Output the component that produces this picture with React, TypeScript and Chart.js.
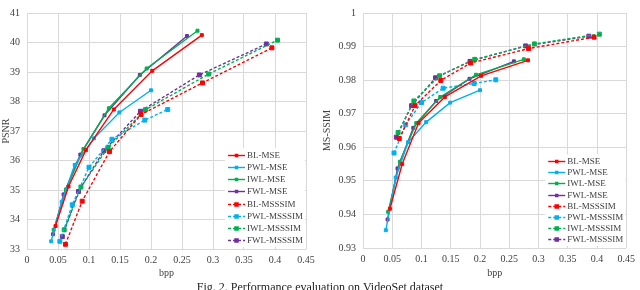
import React, { useEffect, useRef } from "react";
import { Chart, registerables } from "chart.js";

Chart.register(...registerables);

// ---------- data ----------
const SERIES_NAMES = [
  "BL-MSE",
  "PWL-MSE",
  "IWL-MSE",
  "FWL-MSE",
  "BL-MSSSIM",
  "PWL-MSSSIM",
  "IWL-MSSSIM",
  "FWL-MSSSIM",
];

// bits per pixel (shared by both panels)
const BPP_BL_MSE = [0.046, 0.067, 0.095, 0.14, 0.202, 0.282];
const BPP_PWL_MSE = [0.039, 0.056, 0.077, 0.108, 0.149, 0.2];
const BPP_IWL_MSE = [0.043, 0.063, 0.091, 0.132, 0.193, 0.275];
const BPP_FWL_MSE = [0.042, 0.059, 0.086, 0.125, 0.182, 0.258];
const BPP_BL_MSSSIM = [0.062, 0.089, 0.133, 0.184, 0.283, 0.395];
const BPP_PWL_MSSSIM = [0.053, 0.073, 0.1, 0.137, 0.19, 0.227];
const BPP_IWL_MSSSIM = [0.06, 0.087, 0.131, 0.191, 0.293, 0.404];
const BPP_FWL_MSSSIM = [0.057, 0.083, 0.124, 0.183, 0.278, 0.386];

// PSNR (dB)
const PSNR_BL_MSE = [33.78, 35.12, 36.35, 37.73, 39.04, 40.25];
const PSNR_PWL_MSE = [33.26, 34.6, 35.85, 36.75, 37.63, 38.38];
const PSNR_IWL_MSE = [33.65, 35.02, 36.39, 37.77, 39.12, 40.4];
const PSNR_FWL_MSE = [33.5, 34.85, 36.2, 37.53, 38.9, 40.22];
const PSNR_BL_MSSSIM = [33.16, 34.62, 36.3, 37.56, 38.63, 39.82];
const PSNR_PWL_MSSSIM = [33.26, 34.5, 35.77, 36.72, 37.37, 37.73];
const PSNR_IWL_MSSSIM = [33.65, 35.1, 36.45, 37.72, 38.93, 40.08];
const PSNR_FWL_MSSSIM = [33.42, 34.95, 36.33, 37.67, 38.9, 39.95];

// MS-SSIM
const SSIM_BL_MSE = [0.9417, 0.955, 0.9672, 0.975, 0.9813, 0.9859];
const SSIM_PWL_MSE = [0.9353, 0.951, 0.9615, 0.9675, 0.9733, 0.977];
const SSIM_IWL_MSE = [0.9408, 0.9557, 0.9672, 0.975, 0.9816, 0.9862];
const SSIM_FWL_MSE = [0.9385, 0.9537, 0.9658, 0.9738, 0.9804, 0.9856];
const SSIM_BL_MSSSIM = [0.9626, 0.9724, 0.9799, 0.9851, 0.9894, 0.9928];
const SSIM_PWL_MSSSIM = [0.9583, 0.9667, 0.9733, 0.9776, 0.979, 0.9801];
const SSIM_IWL_MSSSIM = [0.9644, 0.9738, 0.9813, 0.9862, 0.9908, 0.9937];
const SSIM_FWL_MSSSIM = [0.963, 0.9724, 0.9807, 0.9856, 0.9902, 0.9931];

// axis ranges / ticks
const X_MIN = 0;
const X_MAX = 0.45;
const X_STEP = 0.05;
const PSNR_MIN = 33;
const PSNR_MAX = 41;
const PSNR_STEP = 1;
const SSIM_MIN = 0.93;
const SSIM_MAX = 1;
const SSIM_STEP = 0.01;

const CAPTION = "Fig. 2. Performance evaluation on VideoSet dataset";

// ---------- styles ----------
const COLORS = ["#FF0000", "#00B0F0", "#00B050", "#7030A0", "#FF0000", "#00B0F0", "#00B050", "#7030A0"];
const FONT = '"Liberation Serif", "Times New Roman", serif';
const TEXT = "#404040";
const GRID = "#D9D9D9";

const BPP = [
  BPP_BL_MSE, BPP_PWL_MSE, BPP_IWL_MSE, BPP_FWL_MSE,
  BPP_BL_MSSSIM, BPP_PWL_MSSSIM, BPP_IWL_MSSSIM, BPP_FWL_MSSSIM,
];
const PSNR = [
  PSNR_BL_MSE, PSNR_PWL_MSE, PSNR_IWL_MSE, PSNR_FWL_MSE,
  PSNR_BL_MSSSIM, PSNR_PWL_MSSSIM, PSNR_IWL_MSSSIM, PSNR_FWL_MSSSIM,
];
const SSIM = [
  SSIM_BL_MSE, SSIM_PWL_MSE, SSIM_IWL_MSE, SSIM_FWL_MSE,
  SSIM_BL_MSSSIM, SSIM_PWL_MSSSIM, SSIM_IWL_MSSSIM, SSIM_FWL_MSSSIM,
];

const fmt = (v: number) => String(Number(Number(v).toFixed(3)));

function buildDatasets(ys: number[][]) {
  return SERIES_NAMES.map((name, i) => {
    const dashed = i >= 4;
    return {
      label: name,
      data: BPP[i].map((x, j) => ({ x, y: ys[i][j] })),
      borderColor: COLORS[i],
      backgroundColor: COLORS[i],
      borderWidth: 1.4,
      borderDash: dashed ? [3, 2] : [],
      pointStyle: "rect",
      pointRadius: dashed ? 2.8 : 2.1,
      pointBorderWidth: 1,
      pointBorderColor: COLORS[i],
      pointBackgroundColor: COLORS[i],
      tension: 0,
      fill: false,
    };
  });
}

function makeLegendPlugin(fromRight: number, fromBottom: number, spacing: number) {
  return {
    id: "insideLegend",
    afterDraw(chart: any) {
      const { ctx, chartArea } = chart;
      const x0 = chartArea.right - fromRight;
      const y0 = chartArea.bottom - fromBottom;
      const n = chart.data.datasets.length;
      ctx.save();
      ctx.fillStyle = "#FFFFFF";
      ctx.fillRect(x0 - 3, y0 - spacing / 2 - 1, fromRight + 2, spacing * n + 2);
      chart.data.datasets.forEach((ds: any, i: number) => {
        const y = Math.round(y0 + i * spacing) + 0.5;
        ctx.strokeStyle = ds.borderColor;
        ctx.lineWidth = 1.4;
        ctx.setLineDash(ds.borderDash || []);
        ctx.beginPath();
        ctx.moveTo(x0, y);
        ctx.lineTo(x0 + 17, y);
        ctx.stroke();
        ctx.setLineDash([]);
        const s = i >= 4 ? 4.5 : 3.5;
        ctx.fillStyle = ds.borderColor;
        ctx.fillRect(x0 + 8.5 - s / 2, y - s / 2, s, s);
        ctx.fillStyle = TEXT;
        ctx.font = `9px ${FONT}`;
        ctx.textBaseline = "middle";
        ctx.textAlign = "left";
        ctx.fillText(ds.label, x0 + 19, y + 0.5);
      });
      ctx.restore();
    },
  };
}

function makeConfig(opts: {
  ys: number[][];
  yMin: number;
  yMax: number;
  yStep: number;
  yTitle: string;
  yWidth: number;
  xHeight: number;
  padRight: number;
  titlePadTop: number;
  legend: any;
}) {
  return {
    type: "line",
    data: { datasets: buildDatasets(opts.ys) },
    options: {
      animation: false,
      responsive: false,
      maintainAspectRatio: false,
      layout: { padding: { left: 0, right: opts.padRight, top: 4, bottom: 0 } },
      plugins: {
        legend: { display: false },
        tooltip: { enabled: false },
      },
      scales: {
        x: {
          type: "linear",
          min: X_MIN,
          max: X_MAX,
          border: { display: false },
          grid: { color: GRID, lineWidth: 1, drawTicks: false },
          ticks: {
            stepSize: X_STEP,
            padding: 5,
            color: TEXT,
            font: { family: FONT, size: 10 },
            maxRotation: 0,
            autoSkip: false,
            callback: (v: number) => fmt(v),
          },
          title: {
            display: true,
            text: "bpp",
            color: TEXT,
            font: { family: FONT, size: 10 },
            padding: { top: 0, bottom: 3 },
          },
          afterFit: (s: any) => {
            s.height = opts.xHeight;
          },
        },
        y: {
          type: "linear",
          min: opts.yMin,
          max: opts.yMax,
          border: { display: false },
          grid: { color: GRID, lineWidth: 1, drawTicks: false },
          ticks: {
            stepSize: opts.yStep,
            padding: 7,
            color: TEXT,
            font: { family: FONT, size: 10 },
            autoSkip: false,
            callback: (v: number) => fmt(v),
          },
          title: {
            display: true,
            text: opts.yTitle,
            color: TEXT,
            font: { family: FONT, size: 10 },
            padding: { top: opts.titlePadTop, bottom: 0 },
          },
          afterFit: (s: any) => {
            s.width = opts.yWidth;
          },
        },
      },
    },
    plugins: [opts.legend],
  };
}

export default function App() {
  const leftRef = useRef<HTMLCanvasElement | null>(null);
  const rightRef = useRef<HTMLCanvasElement | null>(null);

  useEffect(() => {
    document.body.style.margin = "0";
    const left = new Chart(
      leftRef.current as HTMLCanvasElement,
      makeConfig({
        ys: PSNR,
        yMin: PSNR_MIN,
        yMax: PSNR_MAX,
        yStep: PSNR_STEP,
        yTitle: "PSNR",
        yWidth: 27,
        xHeight: 33,
        padRight: 14,
        titlePadTop: 0,
        legend: makeLegendPlugin(78, 94, 12.15),
      }) as any
    );
    const right = new Chart(
      rightRef.current as HTMLCanvasElement,
      makeConfig({
        ys: SSIM,
        yMin: SSIM_MIN,
        yMax: SSIM_MAX,
        yStep: SSIM_STEP,
        yTitle: "MS-SSIM",
        yWidth: 43,
        xHeight: 34,
        padRight: 7,
        titlePadTop: 1,
        legend: makeLegendPlugin(78, 87, 11.2),
      }) as any
    );
    return () => {
      left.destroy();
      right.destroy();
    };
  }, []);

  return (
    <div style={{ position: "relative", width: 640, height: 290, overflow: "hidden", background: "#fff" }}>
      <canvas ref={leftRef} width={320} height={282} style={{ position: "absolute", left: 0, top: 0 }} />
      <canvas ref={rightRef} width={320} height={282} style={{ position: "absolute", left: 320, top: 0 }} />
      <div
        style={{
          position: "absolute",
          left: 0,
          width: 640,
          top: 280,
          lineHeight: "14px",
          textAlign: "center",
          fontFamily: FONT,
          fontSize: 12,
          color: "#222",
          whiteSpace: "nowrap",
        }}
      >
        {CAPTION}
      </div>
    </div>
  );
}
